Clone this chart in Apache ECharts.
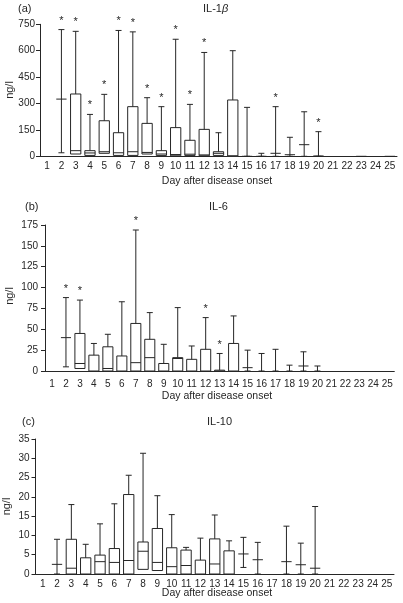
<!DOCTYPE html>
<html><head><meta charset="utf-8">
<script src="https://cdn.jsdelivr.net/npm/echarts@6/dist/echarts.min.js"></script>
<style>html,body{margin:0;padding:0;background:#fff}#c{width:403px;height:603px}</style>
</head><body><div id="c"></div>
<script>
const days = ['1','2','3','4','5','6','7','8','9','10','11','12','13','14','15','16','17','18','19','20','21','22','23','24','25'];

// (a) IL-1β, ng/l
const aLow  = [null,20,null,null,null,null,null,null,null,null,null,null,null,null,0,0,0,0,0,0,null,null,null,null,null];
const aQ1   = [null,null,13,5,17,5,5,13,5,3,5,3,5,0,null,null,null,null,null,null,null,null,null,null,null];
const aMed  = [null,325,32,19,26,20,26,22,13,10,12,8,17,3,0,0,17,9,66,2,null,null,0,null,0];
const aQ3   = [null,null,354,32,202,134,282,187,32,163,91,153,26,320,null,null,null,null,null,null,null,null,null,null,null];
const aHigh = [null,720,710,238,352,715,707,333,282,665,295,590,134,600,278,17,282,108,253,140,null,null,null,null,null];
const aStar = [0,1,1,1,1,1,1,1,1,1,1,1,0,0,0,0,1,0,0,1,0,0,0,0,0];
const aTicks = [0,150,300,450,600,750];

// (b) IL-6, ng/l
const bLow  = [null,5,null,null,null,null,null,null,null,null,null,null,null,null,0,0,0,0,0,0,null,null,null,null,null];
const bQ1   = [null,null,3,0,0,0,0,0,0,0,0,0,0,0,null,null,null,null,null,null,null,null,null,null,null];
const bMed  = [null,40,9,null,3,null,10,16,null,15,null,null,null,null,4,null,null,null,6,null,null,null,null,null,null];
const bQ3   = [null,null,45,19,29,18,57,38,9,16,14,26,1,33,null,null,null,null,null,null,null,null,null,null,null];
const bHigh = [null,88,85,33,44,83,169,70,32,76,30,64,21,66,25,21,26,7,23,6,null,null,null,null,null];
const bStar = [0,1,1,0,0,0,1,0,0,0,0,1,1,0,0,0,0,0,0,0,0,0,0,0,0];
const bTicks = [0,25,50,75,100,125,150,175];

// (c) IL-10, ng/l
const cLow  = [null,0,null,null,null,null,null,null,null,null,null,null,null,null,1.7,0,null,0,0,0,null,null,null,null,null];
const cQ1   = [null,null,0,0,0,0,0,1.2,0.9,0,0,0,0,0,null,null,null,null,null,null,null,null,null,null,null];
const cMed  = [null,2.5,1.5,null,3.2,3.0,3.5,5.9,3.0,1.9,2.2,null,2.6,null,5.2,3.7,null,3.2,2.4,1.5,null,null,null,null,null];
const cQ3   = [null,null,9.0,4.2,4.9,6.6,20.6,8.3,11.8,6.8,6.2,3.6,9.1,6.0,null,null,null,null,null,null,null,null,null,null,null];
const cHigh = [null,9.0,18.0,7.7,13.0,18.2,25.6,31.3,20.3,15.4,6.9,9.3,15.3,8.6,9.5,8.2,null,12.4,8.0,17.5,null,null,null,null,null];
const cStar = [0,0,0,0,0,0,0,0,0,0,0,0,0,0,0,0,0,0,0,0,0,0,0,0,0];
const cTicks = [0,5,10,15,20,25,30,35];

const FONT = '"Liberation Sans", Arial, Helvetica, sans-serif';
const INK = '#262626';

function makeRender(low, q1, med, q3, high, star) {
  return function (params, api) {
    const i = params.dataIndex;
    const ch = [];
    const bw = api.size([1, 0])[0] * 0.72;
    const cw = 6;
    const x = api.coord([i, 0])[0];
    const Y = v => api.coord([i, v])[1];
    const st = { stroke: INK, lineWidth: 1, fill: null };
    const line = (x1, y1, x2, y2) => ch.push({ type: 'line', shape: { x1, y1, x2, y2 }, style: st });
    const hasBox = q1[i] != null && q3[i] != null;
    if (hasBox) {
      const yt = Y(q3[i]), yb = Y(q1[i]);
      ch.push({ type: 'rect', shape: { x: x - bw / 2, y: yt, width: bw, height: yb - yt }, style: { stroke: INK, lineWidth: 1, fill: '#fff' } });
    }
    if (high[i] != null) {
      const from = hasBox ? q3[i] : (low[i] != null ? low[i] : (med[i] != null ? med[i] : 0));
      line(x, Y(from), x, Y(high[i]));
      line(x - cw / 2, Y(high[i]), x + cw / 2, Y(high[i]));
    }
    if (low[i] != null && !hasBox) {
      line(x - cw / 2, Y(low[i]), x + cw / 2, Y(low[i]));
    }
    if (med[i] != null) {
      line(x - bw / 2, Y(med[i]), x + bw / 2, Y(med[i]));
    }
    if (star[i] && high[i] != null) {
      ch.push({ type: 'text', style: { text: '*', x: x, y: Y(high[i]) - 9, align: 'center', verticalAlign: 'middle', font: '11px ' + FONT, fill: INK } });
    }
    return { type: 'group', children: ch };
  };
}

const grids = [
  { left: 40, right: 6, top: 24.3, height: 132, outerBoundsMode: 'none', containLabel: false },
  { left: 45, right: 8.7, top: 225, height: 146, outerBoundsMode: 'none', containLabel: false },
  { left: 35.5, right: 9, top: 439, height: 135, outerBoundsMode: 'none', containLabel: false }
];
const panels = [
  { low: aLow, q1: aQ1, med: aMed, q3: aQ3, high: aHigh, star: aStar, ticks: aTicks, lm: 4.5, ynm: 5 },
  { low: bLow, q1: bQ1, med: bMed, q3: bQ3, high: bHigh, star: bStar, ticks: bTicks, lm: 8, ynm: 7 },
  { low: cLow, q1: cQ1, med: cMed, q3: cQ3, high: cHigh, star: cStar, ticks: cTicks, lm: 5, ynm: 6 }
];

const xAxis = [], yAxis = [], series = [];
panels.forEach((p, k) => {
  xAxis.push({
    type: 'category', gridIndex: k, data: days, boundaryGap: true,
    axisLine: { lineStyle: { color: INK, width: 1 } },
    axisTick: { show: false },
    axisLabel: { interval: 0, margin: p.lm, fontSize: 10, fontFamily: FONT, color: INK }
  });
  const t = p.ticks;
  yAxis.push({
    type: 'value', gridIndex: k, min: t[0], max: t[t.length - 1], interval: t[1] - t[0],
    axisLine: { show: true, lineStyle: { color: INK, width: 1 } },
    axisTick: { show: true, length: 4, lineStyle: { color: INK } },
    splitLine: { show: false },
    axisLabel: { margin: p.ynm, fontSize: 10, fontFamily: FONT, color: INK }
  });
  series.push({
    type: 'custom', xAxisIndex: k, yAxisIndex: k, clip: false,
    renderItem: makeRender(p.low, p.q1, p.med, p.q3, p.high, p.star),
    encode: { x: 0, y: 1 },
    data: days.map((d, i) => [i, p.high[i] != null ? p.high[i] : 0]),
    z: 3
  });
});

const txt = (s, x, y, extra) => Object.assign({ type: 'text', x: x, y: y, style: { text: s, font: '11px ' + FONT, fill: INK, align: 'left', verticalAlign: 'middle' } }, extra || {});
const xName = (y) => ({ type: 'text', x: 217, y: y, style: { text: 'Day after disease onset', font: '10.5px ' + FONT, fill: INK, align: 'center', verticalAlign: 'middle' } });
const yName = (x, y) => ({ type: 'text', x: x, y: y, rotation: Math.PI / 2, style: { text: 'ng/l', font: '11px ' + FONT, fill: INK, align: 'center', verticalAlign: 'middle' } });
const graphic = [
  txt('(a)', 18, 8.5),
  { type: 'text', x: 203, y: 8.5, style: { text: 'IL-1{b|β}', font: '11px ' + FONT, fill: INK, verticalAlign: 'middle', rich: { b: { fontStyle: 'italic', fontSize: 11, fontFamily: FONT, fill: INK } } } },
  txt('(b)', 25, 207),
  txt('IL-6', 209, 207),
  txt('(c)', 22, 422),
  txt('IL-10', 207, 422),
  xName(181.5), xName(396.5), xName(593.5),
  yName(9.5, 90), yName(9.5, 296), yName(7, 506.5)
];

const chart = echarts.init(document.getElementById('c'), null, { renderer: 'canvas' });
chart.setOption({
  animation: false,
  backgroundColor: '#fff',
  grid: grids,
  xAxis, yAxis, series, graphic
});
</script></body></html>
